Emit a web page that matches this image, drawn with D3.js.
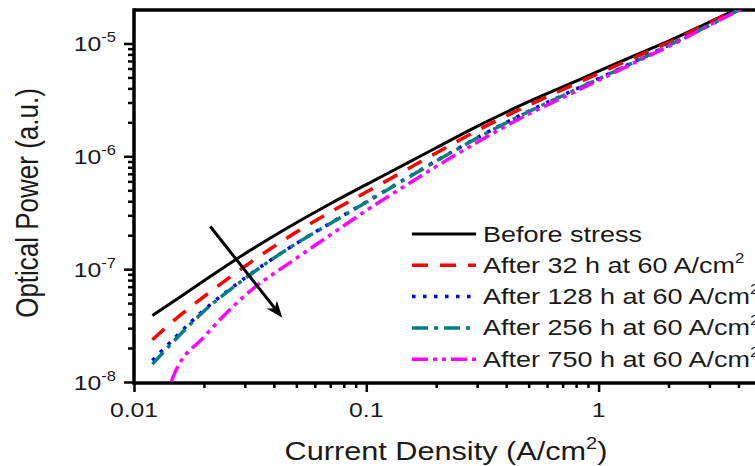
<!DOCTYPE html>
<html>
<head>
<meta charset="utf-8">
<script src="https://cdn.jsdelivr.net/npm/d3@7"></script>
<style>
  html, body { margin: 0; padding: 0; background: #fff; }
  svg { display: block; font-family: "Liberation Sans", Arial, sans-serif; }
</style>
</head>
<body>
<svg id="chart" width="755" height="466"></svg>
<script>
// values (log-log plot)
const currentDensity = [0.012, 0.015, 0.02, 0.03, 0.05, 0.07, 0.1, 0.15, 0.2, 0.3, 0.5, 0.7, 1, 1.5, 2, 3, 4, 5];
const currentDensity750 = [0.0145, 0.015, 0.02, 0.03, 0.05, 0.07, 0.1, 0.15, 0.2, 0.3, 0.5, 0.7, 1, 1.5, 2, 3, 4, 5];

const beforeStress = [3.88e-8, 5.28e-8, 7.89e-8, 1.37e-7, 2.58e-7, 3.80e-7, 5.62e-7, 8.71e-7, 1.19e-6, 1.84e-6, 3.05e-6, 4.12e-6, 5.68e-6, 8.15e-6, 1.05e-5, 1.55e-5, 2.05e-5, 2.57e-5];
const after32h = [2.37e-8, 3.57e-8, 5.71e-8, 1.06e-7, 2.13e-7, 3.20e-7, 4.82e-7, 7.67e-7, 1.07e-6, 1.69e-6, 2.84e-6, 3.89e-6, 5.42e-6, 7.85e-6, 1.02e-5, 1.52e-5, 2.03e-5, 2.55e-5];
const after128h = [1.55e-8, 2.47e-8, 4.34e-8, 8.34e-8, 1.69e-7, 2.56e-7, 3.94e-7, 6.46e-7, 9.12e-7, 1.46e-6, 2.51e-6, 3.47e-6, 4.89e-6, 7.26e-6, 9.66e-6, 1.46e-5, 1.98e-5, 2.51e-5];
const after256h = [1.44e-8, 2.36e-8, 4.24e-8, 8.24e-8, 1.69e-7, 2.54e-7, 3.91e-7, 6.41e-7, 9.06e-7, 1.45e-6, 2.49e-6, 3.44e-6, 4.85e-6, 7.21e-6, 9.59e-6, 1.45e-5, 1.97e-5, 2.50e-5];
const after750h = [1.02e-8, 1.21e-8, 2.50e-8, 5.83e-8, 1.25e-7, 2.01e-7, 3.31e-7, 5.62e-7, 8.13e-7, 1.33e-6, 2.37e-6, 3.31e-6, 4.72e-6, 7.10e-6, 9.40e-6, 1.45e-5, 1.96e-5, 2.50e-5];

const xMajorTicks = [0.01, 0.1, 1];
const xTickLabels = ['0.01', '0.1', '1'];
const yMajorTicks = [1e-8, 1e-7, 1e-6, 1e-5];
const yTickExponents = ['-8', '-7', '-6', '-5'];

const seriesNames = ['Before stress', 'After 32 h at 60 A/cm', 'After 128 h at 60 A/cm', 'After 256 h at 60 A/cm', 'After 750 h at 60 A/cm'];

// arrow annotation (data coords): from, to
const arrowFrom = [0.0213, 2.39e-7];
const arrowTo = [0.0435, 3.71e-8];

const series = [
  { name: seriesNames[0], xs: currentDensity, ys: beforeStress, color: '#000000', dash: null, w: 3 },
  { name: seriesNames[1], xs: currentDensity, ys: after32h, color: '#ff0000', dash: '16,12', w: 3.5, sup: true },
  { name: seriesNames[2], xs: currentDensity, ys: after128h, color: '#0000ff', dash: '3.5,7.5', w: 3.5, sup: true },
  { name: seriesNames[3], xs: currentDensity, ys: after256h, color: '#008080', dash: '16,6,4,6', w: 3.5, sup: true },
  { name: seriesNames[4], xs: currentDensity750, ys: after750h, color: '#ff00ff', dash: '16,5,4,5,4,5', w: 3.5, sup: true },
];

const W = 755, H = 466;
const plotLeft = 134, plotTop = 10, plotBottom = 382;
const textColor = '#1a1a1a';
const stretch = 1.18;

const svg = d3.select('#chart');

const x = d3.scaleLog().domain([0.01, 10]).range([plotLeft, plotLeft + 3 * 232.3]);
const y = d3.scaleLog().domain([1e-8, 1.98e-5]).range([plotBottom, plotTop]);

svg.append('defs').append('clipPath').attr('id', 'plot')
  .append('rect').attr('x', plotLeft).attr('y', plotTop)
  .attr('width', W - plotLeft).attr('height', plotBottom - plotTop);

// minor tick values
const xMinor = [];
[0.01, 0.1, 1].forEach((d) => { for (let k = 2; k <= 9; k++) xMinor.push(d * k); });
const yMinor = [];
[1e-8, 1e-7, 1e-6, 1e-5].forEach((d) => { for (let k = 2; k <= 9; k++) if (d * k <= 1.98e-5) yMinor.push(d * k); });

// axes ticks
const styleAxis = (g) => {
  g.select('.domain').remove();
  g.selectAll('.tick line').attr('stroke', '#000').attr('stroke-width', 2.5);
  g.selectAll('.tick text').remove();
};

svg.append('g').attr('transform', `translate(0,${plotBottom})`)
  .call(d3.axisBottom(x).tickValues(xMinor).tickSize(6).tickFormat(''))
  .call(styleAxis);
svg.append('g').attr('transform', `translate(0,${plotBottom})`)
  .call(d3.axisBottom(x).tickValues(xMajorTicks).tickSize(10).tickFormat(''))
  .call(styleAxis);
svg.append('g').attr('transform', `translate(${plotLeft},0)`)
  .call(d3.axisLeft(y).tickValues(yMinor).tickSize(6).tickFormat(''))
  .call(styleAxis);
svg.append('g').attr('transform', `translate(${plotLeft},0)`)
  .call(d3.axisLeft(y).tickValues(yMajorTicks).tickSize(10).tickFormat(''))
  .call(styleAxis);

// frame
svg.append('line').attr('x1', plotLeft).attr('x2', W).attr('y1', plotTop).attr('y2', plotTop)
  .attr('stroke', '#000').attr('stroke-width', 3.5);
svg.append('line').attr('x1', plotLeft).attr('x2', W).attr('y1', plotBottom + 1).attr('y2', plotBottom + 1)
  .attr('stroke', '#000').attr('stroke-width', 3.5);
svg.append('line').attr('x1', plotLeft).attr('x2', plotLeft).attr('y1', plotTop - 1.7).attr('y2', plotBottom + 2.7)
  .attr('stroke', '#000').attr('stroke-width', 3.5);

// tick labels
xMajorTicks.forEach((d, i) => {
  svg.append('text')
    .attr('transform', `translate(${x(d)},417) scale(${stretch},1)`)
    .attr('text-anchor', 'middle').attr('font-size', 21).attr('fill', textColor)
    .text(xTickLabels[i]);
});
yMajorTicks.forEach((d, i) => {
  const t = svg.append('text')
    .attr('transform', `translate(116,${y(d) + 8}) scale(${stretch},1)`)
    .attr('text-anchor', 'end').attr('font-size', 21).attr('fill', textColor);
  t.append('tspan').text('10');
  t.append('tspan').attr('dy', -9).attr('font-size', 14).text(yTickExponents[i]);
});

// axis titles
svg.append('text')
  .attr('transform', `translate(38,203) scale(${stretch},1) rotate(-90)`)
  .attr('text-anchor', 'middle').attr('font-size', 26).attr('fill', textColor)
  .text('Optical Power (a.u.)');

const xt = svg.append('text')
  .attr('transform', `translate(446,460) scale(${stretch},1)`)
  .attr('text-anchor', 'middle').attr('font-size', 26).attr('fill', textColor);
xt.append('tspan').text('Current Density (A/cm');
xt.append('tspan').attr('dy', -11).attr('font-size', 17).text('2');
xt.append('tspan').attr('dy', 11).text(')');

// curves
const line = d3.line()
  .x((d) => x(d[0]))
  .y((d) => y(d[1]))
  .curve(d3.curveMonotoneX);

const plot = svg.append('g').attr('clip-path', 'url(#plot)');
series.forEach((s) => {
  plot.append('path')
    .datum(s.xs.map((v, i) => [v, s.ys[i]]))
    .attr('d', line)
    .attr('fill', 'none')
    .attr('stroke', s.color)
    .attr('stroke-width', s.w)
    .attr('stroke-dasharray', s.dash)
    .attr('stroke-linecap', 'butt');
});

// arrow
const ax1 = x(arrowFrom[0]), ay1 = y(arrowFrom[1]);
const ax2 = x(arrowTo[0]), ay2 = y(arrowTo[1]);
const ang = Math.atan2(ay2 - ay1, ax2 - ax1);
svg.append('line')
  .attr('x1', ax1).attr('y1', ay1)
  .attr('x2', ax2 - 10 * Math.cos(ang))
  .attr('y2', ay2 - 10 * Math.sin(ang))
  .attr('stroke', '#000').attr('stroke-width', 3);
svg.append('path')
  .attr('d', 'M0,0 L-17,-6.5 L-12,0 L-17,6.5 Z')
  .attr('transform', `translate(${ax2},${ay2}) rotate(${ang * 180 / Math.PI})`)
  .attr('fill', '#000');

// legend
const legend = svg.append('g');
series.forEach((s, i) => {
  const ly = 234 + i * 31.3;
  legend.append('line')
    .attr('x1', 412).attr('x2', 476).attr('y1', ly).attr('y2', ly)
    .attr('stroke', s.color).attr('stroke-width', s.w)
    .attr('stroke-dasharray', s.dash);
  const t = legend.append('text')
    .attr('transform', `translate(483,${ly + 7.5}) scale(1.2,1)`)
    .attr('font-size', 22.5).attr('fill', textColor);
  t.append('tspan').text(s.name);
  if (s.sup) t.append('tspan').attr('dy', -10).attr('font-size', 14).text('2');
});
</script>
</body>
</html>
